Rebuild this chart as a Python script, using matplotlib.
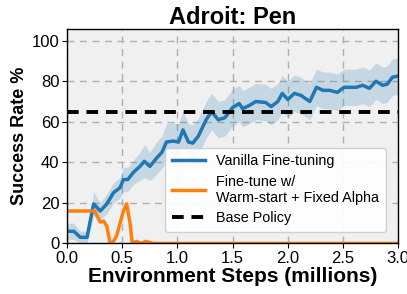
import matplotlib
matplotlib.use("Agg")
import matplotlib.pyplot as plt
import numpy as np

plt.rcParams['font.family'] = ['Liberation Sans', 'DejaVu Sans']

# Vanilla fine-tuning (mean and spread)
x_blue = [0.0, 0.06, 0.12, 0.18, 0.24, 0.30, 0.36, 0.42, 0.48, 0.51,
          0.55, 0.60, 0.66, 0.70, 0.75, 0.81, 0.86, 0.90, 0.96, 1.01,
          1.05, 1.10, 1.14, 1.19, 1.26, 1.31, 1.37, 1.43, 1.50, 1.56,
          1.59, 1.65, 1.71, 1.80, 1.85, 1.91, 1.95, 2.00, 2.06, 2.12,
          2.20, 2.26, 2.32, 2.38, 2.45, 2.51, 2.57, 2.62, 2.68, 2.74,
          2.80, 2.86, 2.90, 2.95, 3.0]
y_blue = [6, 6, 3, 3, 19.5, 16, 19.5, 25, 27.5, 31.5,
          31.5, 35, 38, 40.5, 38, 42, 45, 50, 50.5, 50,
          56, 50, 49.5, 53, 61, 65, 61, 62, 67, 69,
          66.5, 68, 70, 69.5, 67.5, 70, 74, 71, 74, 73,
          70, 77, 75.5, 75.5, 74.5, 77, 77, 77, 78, 76.5,
          80, 78, 78.5, 82, 82.5]
s_blue = [4, 4, 3, 3, 6, 4, 5, 5, 5, 6,
          6, 6, 7, 8, 7, 8, 8, 9, 9, 9,
          9, 9, 9, 9, 9, 9, 9, 9, 9, 9,
          9, 9, 9, 9, 9, 9, 9, 9, 9, 9,
          9, 9, 9, 9, 9, 9, 9, 9, 9, 9,
          9, 9, 9, 9, 9]

# Fine-tune w/ warm-start + fixed alpha
x_orange = [0.0, 0.10, 0.20, 0.25, 0.30, 0.33, 0.36, 0.39, 0.42, 0.45,
            0.51, 0.54, 0.57, 0.59, 0.63, 0.67, 0.71, 0.75, 0.78, 1.0, 2.0, 3.0]
y_orange = [16, 16, 16, 16, 10.5, 11, 8.5, 0, 1, 4,
            16, 19.5, 10, 0, 1, 0, 1, 0.5, 0, 0, 0, 0]

base_policy = 65

xticks = [0.0, 0.5, 1.0, 1.5, 2.0, 2.5, 3.0]
yticks = [0, 20, 40, 60, 80, 100]

fig, ax = plt.subplots(figsize=(4.07, 2.94), dpi=100)
fig.subplots_adjust(left=0.165, right=0.978, top=0.903, bottom=0.172)
ax.set_facecolor('#f0f0f0')

xb = np.array(x_blue); yb = np.array(y_blue); sb = np.array(s_blue)
ax.fill_between(xb, yb - sb, yb + sb, color='#1f77b4', alpha=0.2, lw=0)
ax.plot(xb, yb, color='#1f77b4', lw=2.5, label='Vanilla Fine-tuning')
ax.plot(x_orange, y_orange, color='#ff7f0e', lw=2.5,
        label='Fine-tune w/\nWarm-start + Fixed Alpha')
ax.axhline(base_policy, color='black', ls='--', lw=2.8, dashes=(3, 2),
           label='Base Policy')

ax.set_xlim(0, 3.0)
ax.set_ylim(0, 106)
ax.set_xticks(xticks)
ax.set_yticks(yticks)
ax.tick_params(labelsize=12, pad=2)
ax.grid(True, ls=(0, (5, 4)), color='#b0b0b0', lw=1)
ax.set_axisbelow(True)
for sp in ax.spines.values():
    sp.set_color('black')
    sp.set_linewidth(1)

ax.set_title('Adroit: Pen', fontsize=17, fontweight='bold', pad=3)
ax.set_xlabel('Environment Steps (millions)', fontsize=15, fontweight='bold', labelpad=1)
ax.set_ylabel('Success Rate %', fontsize=13, fontweight='bold', labelpad=3)

leg = ax.legend(loc='lower right', fontsize=10.4, frameon=True, framealpha=0.9,
                facecolor='white', edgecolor='#cccccc', handlelength=2.3,
                borderpad=0.45, labelspacing=0.45, bbox_to_anchor=(0.985, 0.02))

fig.savefig('out.png', dpi=100)
